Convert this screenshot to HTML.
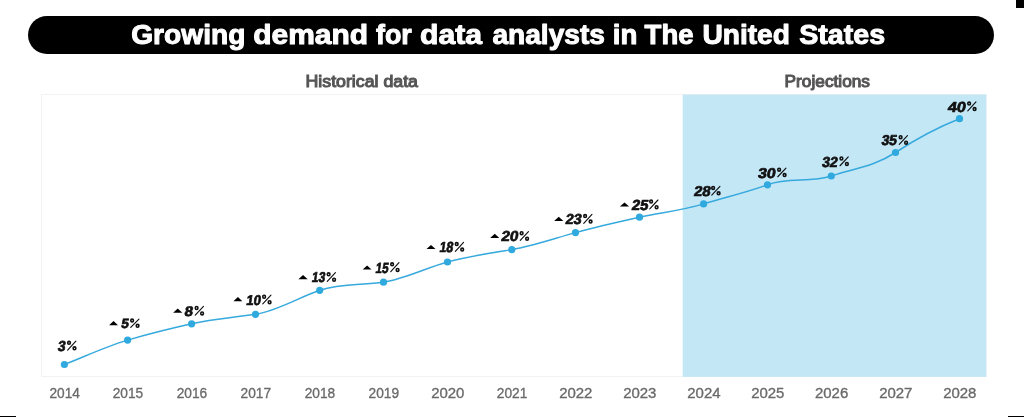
<!DOCTYPE html>
<html><head><meta charset="utf-8"><style>
html,body{margin:0;padding:0;background:#fff;width:1024px;height:417px;overflow:hidden;}
svg{display:block;will-change:transform;}
text{font-family:"Liberation Sans", sans-serif;}
</style></head><body>
<svg width="1024" height="417" viewBox="0 0 1024 417">
<rect x="1016" y="0" width="8" height="8" fill="#000"/>
<rect x="0" y="416" width="16" height="1" fill="#000"/>
<rect x="1008" y="416" width="16" height="1" fill="#000"/>
<rect x="28" y="16" width="966" height="38" rx="19" ry="19" fill="#000"/>
<text x="131.20" y="43.5" font-family="Liberation Sans" font-weight="bold" font-size="27.8" fill="#fff" stroke="#fff" stroke-width="1.0" stroke-linejoin="round" textLength="114.20" lengthAdjust="spacingAndGlyphs">Growing</text>
<text x="253.20" y="43.5" font-family="Liberation Sans" font-weight="bold" font-size="27.8" fill="#fff" stroke="#fff" stroke-width="1.0" stroke-linejoin="round" textLength="115.00" lengthAdjust="spacingAndGlyphs">demand</text>
<text x="376.00" y="43.5" font-family="Liberation Sans" font-weight="bold" font-size="27.8" fill="#fff" stroke="#fff" stroke-width="1.0" stroke-linejoin="round" textLength="35.80" lengthAdjust="spacingAndGlyphs">for</text>
<text x="420.00" y="43.5" font-family="Liberation Sans" font-weight="bold" font-size="27.8" fill="#fff" stroke="#fff" stroke-width="1.0" stroke-linejoin="round" textLength="62.00" lengthAdjust="spacingAndGlyphs">data</text>
<text x="492.40" y="43.5" font-family="Liberation Sans" font-weight="bold" font-size="27.8" fill="#fff" stroke="#fff" stroke-width="1.0" stroke-linejoin="round" textLength="112.60" lengthAdjust="spacingAndGlyphs">analysts</text>
<text x="612.80" y="43.5" font-family="Liberation Sans" font-weight="bold" font-size="27.8" fill="#fff" stroke="#fff" stroke-width="1.0" stroke-linejoin="round" textLength="24.60" lengthAdjust="spacingAndGlyphs">in</text>
<text x="644.60" y="43.5" font-family="Liberation Sans" font-weight="bold" font-size="27.8" fill="#fff" stroke="#fff" stroke-width="1.0" stroke-linejoin="round" textLength="49.00" lengthAdjust="spacingAndGlyphs">The</text>
<text x="702.40" y="43.5" font-family="Liberation Sans" font-weight="bold" font-size="27.8" fill="#fff" stroke="#fff" stroke-width="1.0" stroke-linejoin="round" textLength="87.60" lengthAdjust="spacingAndGlyphs">United</text>
<text x="799.20" y="43.5" font-family="Liberation Sans" font-weight="bold" font-size="27.8" fill="#fff" stroke="#fff" stroke-width="1.0" stroke-linejoin="round" textLength="86.00" lengthAdjust="spacingAndGlyphs">States</text>
<text x="305.5" y="86.9" font-family="Liberation Sans" font-weight="normal" font-size="15.8" fill="#555555" stroke="#555555" stroke-width="1.0" textLength="112.5" lengthAdjust="spacingAndGlyphs">Historical data</text>
<text x="784.6" y="86.8" font-family="Liberation Sans" font-weight="normal" font-size="15.8" fill="#555555" stroke="#555555" stroke-width="1.0" textLength="85.4" lengthAdjust="spacingAndGlyphs">Projections</text>
<rect x="41.5" y="94.5" width="944.5" height="282" fill="#fff" stroke="#f2f2f2" stroke-width="1"/>
<rect x="682.7" y="94.6" width="303.6" height="282.3" fill="#c4e7f6"/>
<path d="M64.40,364.50 C85.47,356.24 106.53,346.23 127.60,340.10 C148.93,333.89 170.27,328.58 191.60,323.80 C212.90,319.03 234.20,317.56 255.50,314.30 C276.90,311.03 298.30,297.73 319.70,290.30 C340.97,282.92 362.23,285.48 383.50,282.20 C404.83,278.91 426.17,267.80 447.50,262.00 C468.93,256.17 490.37,253.05 511.80,249.60 C533.03,246.18 554.27,238.44 575.50,232.60 C596.83,226.73 618.17,221.91 639.50,217.20 C660.87,212.48 682.23,210.55 703.60,203.90 C724.90,197.28 746.20,192.83 767.50,184.80 C788.77,176.78 810.03,183.17 831.30,176.00 C852.70,168.79 874.10,166.65 895.50,152.50 C916.83,138.40 938.17,127.13 959.50,118.70" fill="none" stroke="#36a9dd" stroke-width="1.5"/>
<circle cx="64.4" cy="364.5" r="3.6" fill="#2fa9de"/>
<circle cx="127.6" cy="340.1" r="3.6" fill="#2fa9de"/>
<circle cx="191.6" cy="323.8" r="3.6" fill="#2fa9de"/>
<circle cx="255.5" cy="314.3" r="3.6" fill="#2fa9de"/>
<circle cx="319.7" cy="290.3" r="3.6" fill="#2fa9de"/>
<circle cx="383.5" cy="282.2" r="3.6" fill="#2fa9de"/>
<circle cx="447.5" cy="262.0" r="3.6" fill="#2fa9de"/>
<circle cx="511.8" cy="249.6" r="3.6" fill="#2fa9de"/>
<circle cx="575.5" cy="232.6" r="3.6" fill="#2fa9de"/>
<circle cx="639.5" cy="217.2" r="3.6" fill="#2fa9de"/>
<circle cx="703.6" cy="203.9" r="3.6" fill="#2fa9de"/>
<circle cx="767.5" cy="184.8" r="3.6" fill="#2fa9de"/>
<circle cx="831.3" cy="176.0" r="3.6" fill="#2fa9de"/>
<circle cx="895.5" cy="152.5" r="3.6" fill="#2fa9de"/>
<circle cx="959.5" cy="118.7" r="3.6" fill="#2fa9de"/>
<text transform="translate(57.35,350.95) skewX(-9)" x="0" y="0" font-family="Liberation Sans" font-weight="bold" font-size="14.43" fill="#111" stroke="#111" stroke-width="0.7" stroke-linejoin="round" textLength="7.70" lengthAdjust="spacingAndGlyphs">3</text>
<g fill="none" stroke="#111"><ellipse cx="69.03" cy="342.80" rx="1.35" ry="1.45" stroke-width="1.6"/><ellipse cx="74.49" cy="348.31" rx="1.35" ry="1.45" stroke-width="1.6"/><line x1="67.66" y1="350.04" x2="75.85" y2="341.18" stroke-width="1.15" stroke-linecap="round"/></g>
<polygon points="109.1,325.3 113.55,321 118,325.3" fill="#000"/>
<text transform="translate(120.81,328.25) skewX(-9)" x="0" y="0" font-family="Liberation Sans" font-weight="bold" font-size="13.43" fill="#111" stroke="#111" stroke-width="0.7" stroke-linejoin="round" textLength="7.50" lengthAdjust="spacingAndGlyphs">5</text>
<g fill="none" stroke="#111"><ellipse cx="132.12" cy="320.62" rx="1.35" ry="1.45" stroke-width="1.6"/><ellipse cx="137.59" cy="325.78" rx="1.35" ry="1.45" stroke-width="1.6"/><line x1="130.76" y1="327.39" x2="138.95" y2="319.11" stroke-width="1.15" stroke-linecap="round"/></g>
<polygon points="173.15,312.7 177.72500000000002,308.4 182.3,312.7" fill="#000"/>
<text transform="translate(183.93,315.95) skewX(-9)" x="0" y="0" font-family="Liberation Sans" font-weight="bold" font-size="14.00" fill="#111" stroke="#111" stroke-width="0.7" stroke-linejoin="round" textLength="8.40" lengthAdjust="spacingAndGlyphs">8</text>
<g fill="none" stroke="#111"><ellipse cx="196.62" cy="308.02" rx="1.35" ry="1.45" stroke-width="1.6"/><ellipse cx="202.09" cy="313.38" rx="1.35" ry="1.45" stroke-width="1.6"/><line x1="195.26" y1="315.06" x2="203.45" y2="306.45" stroke-width="1.15" stroke-linecap="round"/></g>
<polygon points="233.4,301.3 237.9,297 242.4,301.3" fill="#000"/>
<text transform="translate(245.77,304.75) skewX(-9)" x="0" y="0" font-family="Liberation Sans" font-weight="bold" font-size="14.14" fill="#111" stroke="#111" stroke-width="0.7" stroke-linejoin="round" textLength="14.70" lengthAdjust="spacingAndGlyphs">10</text>
<g fill="none" stroke="#111"><ellipse cx="264.12" cy="296.75" rx="1.35" ry="1.45" stroke-width="1.6"/><ellipse cx="269.58" cy="302.16" rx="1.35" ry="1.45" stroke-width="1.6"/><line x1="262.76" y1="303.85" x2="270.95" y2="295.16" stroke-width="1.15" stroke-linecap="round"/></g>
<polygon points="298.4,279.3 303.04999999999995,274.9 307.7,279.3" fill="#000"/>
<text transform="translate(311.35,282.35) skewX(-9)" x="0" y="0" font-family="Liberation Sans" font-weight="bold" font-size="14.29" fill="#111" stroke="#111" stroke-width="0.7" stroke-linejoin="round" textLength="13.30" lengthAdjust="spacingAndGlyphs">13</text>
<g fill="none" stroke="#111"><ellipse cx="328.62" cy="274.28" rx="1.35" ry="1.45" stroke-width="1.6"/><ellipse cx="334.08" cy="279.73" rx="1.35" ry="1.45" stroke-width="1.6"/><line x1="327.26" y1="281.44" x2="335.45" y2="272.67" stroke-width="1.15" stroke-linecap="round"/></g>
<polygon points="362.7,269.4 367.1,265.4 371.5,269.4" fill="#000"/>
<text transform="translate(374.93,272.65) skewX(-9)" x="0" y="0" font-family="Liberation Sans" font-weight="bold" font-size="14.71" fill="#111" stroke="#111" stroke-width="0.7" stroke-linejoin="round" textLength="12.90" lengthAdjust="spacingAndGlyphs">15</text>
<g fill="none" stroke="#111"><ellipse cx="392.12" cy="264.35" rx="1.35" ry="1.45" stroke-width="1.6"/><ellipse cx="397.58" cy="269.96" rx="1.35" ry="1.45" stroke-width="1.6"/><line x1="390.76" y1="271.72" x2="398.95" y2="262.70" stroke-width="1.15" stroke-linecap="round"/></g>
<polygon points="426.5,249 431.0,244.9 435.5,249" fill="#000"/>
<text transform="translate(438.89,252.25) skewX(-9)" x="0" y="0" font-family="Liberation Sans" font-weight="bold" font-size="14.57" fill="#111" stroke="#111" stroke-width="0.7" stroke-linejoin="round" textLength="13.70" lengthAdjust="spacingAndGlyphs">18</text>
<g fill="none" stroke="#111"><ellipse cx="456.73" cy="244.03" rx="1.35" ry="1.45" stroke-width="1.6"/><ellipse cx="462.19" cy="249.58" rx="1.35" ry="1.45" stroke-width="1.6"/><line x1="455.36" y1="251.33" x2="463.55" y2="242.39" stroke-width="1.15" stroke-linecap="round"/></g>
<polygon points="490.2,238.1 494.75,233.8 499.3,238.1" fill="#000"/>
<text transform="translate(500.77,241.35) skewX(-9)" x="0" y="0" font-family="Liberation Sans" font-weight="bold" font-size="14.43" fill="#111" stroke="#111" stroke-width="0.7" stroke-linejoin="round" textLength="17.20" lengthAdjust="spacingAndGlyphs">20</text>
<g fill="none" stroke="#111"><ellipse cx="521.62" cy="233.20" rx="1.35" ry="1.45" stroke-width="1.6"/><ellipse cx="527.09" cy="238.71" rx="1.35" ry="1.45" stroke-width="1.6"/><line x1="520.26" y1="240.44" x2="528.45" y2="231.58" stroke-width="1.15" stroke-linecap="round"/></g>
<polygon points="554.2,220.9 558.75,216.8 563.3,220.9" fill="#000"/>
<text transform="translate(564.89,224.25) skewX(-9)" x="0" y="0" font-family="Liberation Sans" font-weight="bold" font-size="14.43" fill="#111" stroke="#111" stroke-width="0.7" stroke-linejoin="round" textLength="16.10" lengthAdjust="spacingAndGlyphs">23</text>
<g fill="none" stroke="#111"><ellipse cx="585.12" cy="216.10" rx="1.35" ry="1.45" stroke-width="1.6"/><ellipse cx="590.59" cy="221.61" rx="1.35" ry="1.45" stroke-width="1.6"/><line x1="583.76" y1="223.34" x2="591.95" y2="214.48" stroke-width="1.15" stroke-linecap="round"/></g>
<polygon points="619.9,206.6 624.5,202.5 629.1,206.6" fill="#000"/>
<text transform="translate(631.19,209.85) skewX(-9)" x="0" y="0" font-family="Liberation Sans" font-weight="bold" font-size="14.57" fill="#111" stroke="#111" stroke-width="0.7" stroke-linejoin="round" textLength="16.60" lengthAdjust="spacingAndGlyphs">25</text>
<g fill="none" stroke="#111"><ellipse cx="651.12" cy="201.62" rx="1.35" ry="1.45" stroke-width="1.6"/><ellipse cx="656.59" cy="207.18" rx="1.35" ry="1.45" stroke-width="1.6"/><line x1="649.76" y1="208.93" x2="657.95" y2="199.99" stroke-width="1.15" stroke-linecap="round"/></g>
<text transform="translate(693.61,195.95) skewX(-9)" x="0" y="0" font-family="Liberation Sans" font-weight="bold" font-size="14.14" fill="#111" stroke="#111" stroke-width="0.7" stroke-linejoin="round" textLength="16.50" lengthAdjust="spacingAndGlyphs">28</text>
<g fill="none" stroke="#111"><ellipse cx="713.12" cy="187.95" rx="1.35" ry="1.45" stroke-width="1.6"/><ellipse cx="718.59" cy="193.36" rx="1.35" ry="1.45" stroke-width="1.6"/><line x1="711.76" y1="195.05" x2="719.95" y2="186.36" stroke-width="1.15" stroke-linecap="round"/></g>
<text transform="translate(757.39,177.65) skewX(-9)" x="0" y="0" font-family="Liberation Sans" font-weight="bold" font-size="14.14" fill="#111" stroke="#111" stroke-width="0.7" stroke-linejoin="round" textLength="17.60" lengthAdjust="spacingAndGlyphs">30</text>
<g fill="none" stroke="#111"><ellipse cx="779.12" cy="169.65" rx="1.35" ry="1.45" stroke-width="1.6"/><ellipse cx="784.59" cy="175.06" rx="1.35" ry="1.45" stroke-width="1.6"/><line x1="777.76" y1="176.75" x2="785.95" y2="168.06" stroke-width="1.15" stroke-linecap="round"/></g>
<text transform="translate(821.43,166.65) skewX(-9)" x="0" y="0" font-family="Liberation Sans" font-weight="bold" font-size="14.43" fill="#111" stroke="#111" stroke-width="0.7" stroke-linejoin="round" textLength="15.70" lengthAdjust="spacingAndGlyphs">32</text>
<g fill="none" stroke="#111"><ellipse cx="841.42" cy="158.50" rx="1.35" ry="1.45" stroke-width="1.6"/><ellipse cx="846.88" cy="164.01" rx="1.35" ry="1.45" stroke-width="1.6"/><line x1="840.06" y1="165.74" x2="848.25" y2="156.88" stroke-width="1.15" stroke-linecap="round"/></g>
<text transform="translate(880.93,145.25) skewX(-9)" x="0" y="0" font-family="Liberation Sans" font-weight="bold" font-size="14.29" fill="#111" stroke="#111" stroke-width="0.7" stroke-linejoin="round" textLength="15.40" lengthAdjust="spacingAndGlyphs">35</text>
<g fill="none" stroke="#111"><ellipse cx="900.62" cy="137.18" rx="1.35" ry="1.45" stroke-width="1.6"/><ellipse cx="906.09" cy="142.63" rx="1.35" ry="1.45" stroke-width="1.6"/><line x1="899.26" y1="144.34" x2="907.45" y2="135.57" stroke-width="1.15" stroke-linecap="round"/></g>
<text transform="translate(947.31,111.75) skewX(-9)" x="0" y="0" font-family="Liberation Sans" font-weight="bold" font-size="14.57" fill="#111" stroke="#111" stroke-width="0.7" stroke-linejoin="round" textLength="18.00" lengthAdjust="spacingAndGlyphs">40</text>
<g fill="none" stroke="#111"><ellipse cx="969.12" cy="103.53" rx="1.35" ry="1.45" stroke-width="1.6"/><ellipse cx="974.59" cy="109.08" rx="1.35" ry="1.45" stroke-width="1.6"/><line x1="967.76" y1="110.83" x2="975.95" y2="101.89" stroke-width="1.15" stroke-linecap="round"/></g>
<text x="49.45" y="398" font-family="Liberation Sans" font-size="15.3" fill="#6a6a6a" stroke="#6a6a6a" stroke-width="0.35" textLength="30.5" lengthAdjust="spacingAndGlyphs">2014</text>
<text x="112.65" y="398" font-family="Liberation Sans" font-size="15.3" fill="#6a6a6a" stroke="#6a6a6a" stroke-width="0.35" textLength="30.5" lengthAdjust="spacingAndGlyphs">2015</text>
<text x="176.65" y="398" font-family="Liberation Sans" font-size="15.3" fill="#6a6a6a" stroke="#6a6a6a" stroke-width="0.35" textLength="30.5" lengthAdjust="spacingAndGlyphs">2016</text>
<text x="240.55" y="398" font-family="Liberation Sans" font-size="15.3" fill="#6a6a6a" stroke="#6a6a6a" stroke-width="0.35" textLength="30.5" lengthAdjust="spacingAndGlyphs">2017</text>
<text x="304.75" y="398" font-family="Liberation Sans" font-size="15.3" fill="#6a6a6a" stroke="#6a6a6a" stroke-width="0.35" textLength="30.5" lengthAdjust="spacingAndGlyphs">2018</text>
<text x="368.55" y="398" font-family="Liberation Sans" font-size="15.3" fill="#6a6a6a" stroke="#6a6a6a" stroke-width="0.35" textLength="30.5" lengthAdjust="spacingAndGlyphs">2019</text>
<text x="431.15" y="398" font-family="Liberation Sans" font-size="15.3" fill="#6a6a6a" stroke="#6a6a6a" stroke-width="0.35" textLength="33.3" lengthAdjust="spacingAndGlyphs">2020</text>
<text x="496.85" y="398" font-family="Liberation Sans" font-size="15.3" fill="#6a6a6a" stroke="#6a6a6a" stroke-width="0.35" textLength="30.5" lengthAdjust="spacingAndGlyphs">2021</text>
<text x="559.15" y="398" font-family="Liberation Sans" font-size="15.3" fill="#6a6a6a" stroke="#6a6a6a" stroke-width="0.35" textLength="33.3" lengthAdjust="spacingAndGlyphs">2022</text>
<text x="623.15" y="398" font-family="Liberation Sans" font-size="15.3" fill="#6a6a6a" stroke="#6a6a6a" stroke-width="0.35" textLength="33.3" lengthAdjust="spacingAndGlyphs">2023</text>
<text x="687.25" y="398" font-family="Liberation Sans" font-size="15.3" fill="#6a6a6a" stroke="#6a6a6a" stroke-width="0.35" textLength="33.3" lengthAdjust="spacingAndGlyphs">2024</text>
<text x="751.15" y="398" font-family="Liberation Sans" font-size="15.3" fill="#6a6a6a" stroke="#6a6a6a" stroke-width="0.35" textLength="33.3" lengthAdjust="spacingAndGlyphs">2025</text>
<text x="814.95" y="398" font-family="Liberation Sans" font-size="15.3" fill="#6a6a6a" stroke="#6a6a6a" stroke-width="0.35" textLength="33.3" lengthAdjust="spacingAndGlyphs">2026</text>
<text x="879.15" y="398" font-family="Liberation Sans" font-size="15.3" fill="#6a6a6a" stroke="#6a6a6a" stroke-width="0.35" textLength="33.3" lengthAdjust="spacingAndGlyphs">2027</text>
<text x="943.15" y="398" font-family="Liberation Sans" font-size="15.3" fill="#6a6a6a" stroke="#6a6a6a" stroke-width="0.35" textLength="33.3" lengthAdjust="spacingAndGlyphs">2028</text>
</svg>
</body></html>
